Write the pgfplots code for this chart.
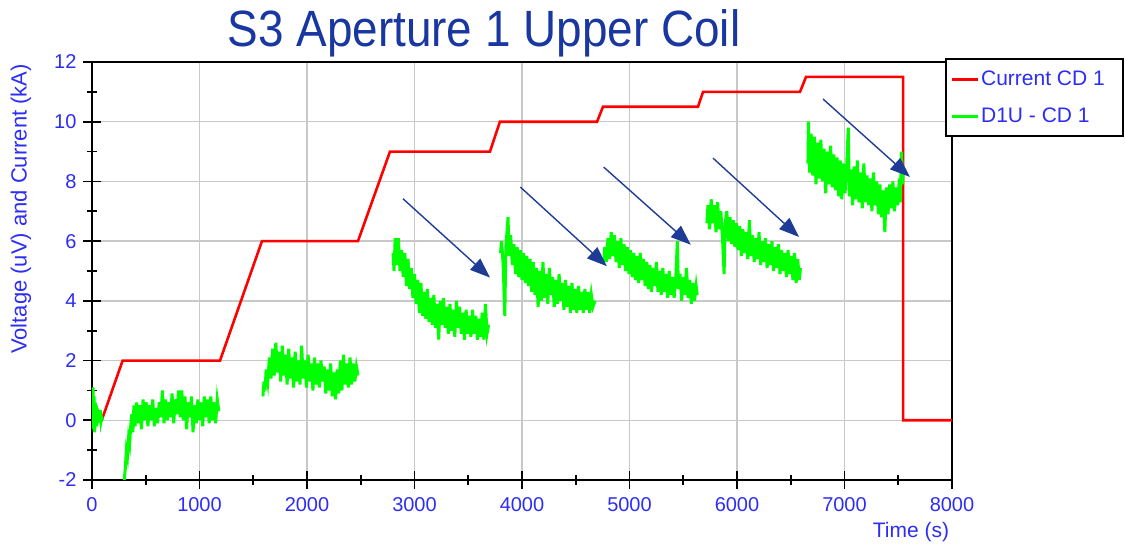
\documentclass[border=0pt]{standalone}
\usepackage{fontspec}
\setmainfont{Liberation Sans}
\usepackage{pgfplots}
\pgfplotsset{compat=1.18}
\usetikzlibrary{arrows.meta}
\definecolor{tickblue}{RGB}{45,45,245}
\definecolor{titleblue}{RGB}{25,55,160}
\definecolor{arrowblue}{RGB}{30,60,150}
\definecolor{gridgray}{RGB}{200,200,200}
\definecolor{lime}{RGB}{0,255,0}
\begin{document}
\begin{tikzpicture}[x=1pt,y=1pt]
\useasboundingbox (-92pt,-66pt) rectangle (1033pt,480pt);
\begin{axis}[
  at={(0pt,0pt)}, anchor=south west,
  scale only axis, width=860pt, height=418pt,
  xmin=0, xmax=8000, ymin=-2, ymax=12,
  xtick={0,1000,...,8000}, ytick={-2,0,...,12},
  minor x tick num=1, minor y tick num=1,
  xtick pos=left, ytick pos=left,
  tick align=center,
  major tick length=18pt, minor tick length=10pt,
  every tick/.style={black, line width=1.6pt},
  axis line style={black, line width=2pt},
  grid=major,
  major grid style={gridgray, line width=1.3pt},
  scaled ticks=false,
  /pgf/number format/1000 sep={},
  /pgf/number format/assume math mode=true,
  tick label style={font=\fontsize{20}{24}\selectfont, text=tickblue},
  xticklabel style={yshift=-5pt},
  yticklabel style={xshift=-3pt},
  unbounded coords=jump,
  legend cell align=left,
  legend style={at={(0.992,1.0096)}, anchor=north west, draw=black, line width=2pt,
    fill=white, font=\fontsize{21}{25}\selectfont, text=tickblue,
    inner xsep=4pt, inner ysep=10pt, row sep=17pt},
  legend image code/.code={\draw[#1, line width=3pt] (0pt,0pt) -- (26pt,0pt);},
]
\addplot[red, line width=2.6pt] coordinates {
(0,0)(90,0)(285,2)(1191,2)(1581,6)(2474,6)(2772,9)(3702,9)(3795,10)(4698,10)
(4753,10.5)(5637,10.5)(5684,11)(6586,11)(6642,11.5)(7545,11.5)(7545,0)(8000,0)};
\addlegendentry{\makebox[136pt][l]{Current CD 1}}
\addplot[lime, line width=3pt] coordinates {
(0,0.1)(5,-0.3)(10,1.1)(15,0.2)(20,0.8)(25,-0.4)(30,0.6)(35,0.0)(40,0.5)(45,-0.2)(50,0.4)
(55,0.1)(60,0.3)(65,-0.1)(70,0.2)(75,0.0)(80,0.35)(85,0.0)(90,0.1)(95,0.05)(100,0.0)
(101,nan)
(300,-2.0)(310,-1.6)(320,-1.0)(330,-1.2)(340,-0.6)(350,-0.8)(360,-0.2)(370,0.2)(380,-0.4)(390,0.5)
(400,-0.2)(415,0.6)(430,-0.1)(445,0.5)(460,-0.3)(475,0.7)(490,0.0)(505,0.6)(520,-0.2)(535,0.5)
(550,0.0)(565,0.7)(580,-0.2)(595,0.4)(610,-0.1)(625,0.6)(640,0.1)(655,1.0)(670,-0.1)(685,0.7)
(700,0.0)(715,0.6)(730,0.1)(745,0.9)(760,-0.1)(775,0.7)(790,0.2)(805,1.0)(820,0.1)(835,1.0)
(850,0.0)(865,0.8)(880,-0.3)(895,0.6)(910,0.1)(925,0.8)(940,-0.4)(955,0.5)(970,-0.1)(985,0.7)
(1000,0.0)(1015,0.6)(1030,-0.2)(1045,0.8)(1060,0.1)(1075,0.7)(1090,-0.1)(1105,0.8)(1120,0.0)
(1135,0.6)(1150,-0.1)(1165,0.7)(1180,0.3)
(1181,nan)
(1590,0.8)(1600,1.3)(1610,1.0)(1620,1.7)(1635,1.3)(1650,2.1)(1665,1.4)(1680,2.4)(1695,1.5)
(1710,2.6)(1725,1.6)(1740,2.3)(1755,1.3)(1770,2.5)(1785,1.5)(1800,2.2)(1815,1.2)(1830,2.4)
(1845,1.4)(1860,2.1)(1875,1.1)(1890,2.3)(1905,1.3)(1920,2.0)(1935,1.2)(1950,2.5)(1965,1.4)
(1980,2.0)(1995,1.1)(2010,2.2)(2025,1.3)(2040,1.9)(2055,1.0)(2070,2.1)(2085,1.2)(2100,1.9)
(2115,1.1)(2130,2.0)(2145,1.3)(2160,1.8)(2175,0.9)(2190,1.7)(2205,1.0)(2220,1.9)(2235,0.8)
(2250,1.6)(2265,0.7)(2280,1.7)(2295,0.9)(2310,2.0)(2325,1.0)(2340,2.2)(2355,1.2)(2370,1.9)
(2385,1.1)(2400,2.1)(2415,1.2)(2430,1.9)(2445,1.3)(2460,1.8)(2475,1.5)
(2476,nan)
(2800,5.6)(2810,5.0)(2820,6.1)(2835,5.2)(2850,6.1)(2865,5.0)(2880,5.7)(2895,4.8)(2910,5.6)
(2925,4.5)(2940,5.4)(2955,4.4)(2970,5.1)(2985,4.1)(3000,4.9)(3015,3.9)(3030,4.7)(3045,3.6)
(3060,4.6)(3075,3.5)(3090,4.3)(3105,3.4)(3120,4.4)(3135,3.3)(3150,4.1)(3165,3.2)(3180,4.2)
(3195,3.1)(3210,3.9)(3225,2.7)(3240,4.0)(3255,3.2)(3270,4.1)(3285,3.1)(3300,3.8)(3315,2.9)
(3330,3.9)(3345,3.0)(3360,3.7)(3375,2.8)(3390,4.0)(3405,3.1)(3420,3.8)(3435,2.9)(3450,3.6)
(3465,2.7)(3480,3.7)(3495,2.9)(3510,3.5)(3525,2.8)(3540,3.7)(3555,2.9)(3570,3.5)(3585,2.7)
(3600,3.4)(3615,2.8)(3630,3.6)(3645,2.7)(3660,3.9)(3675,2.9)(3690,3.2)
(3691,nan)
(3800,5.6)(3810,6.0)(3825,5.2)(3840,3.5)(3850,5.8)(3860,6.3)(3870,6.8)(3880,5.5)(3895,6.2)
(3910,5.2)(3925,5.9)(3940,4.9)(3955,5.8)(3970,4.8)(3985,5.7)(4000,4.7)(4015,5.6)(4030,4.6)
(4045,5.5)(4060,4.5)(4075,5.4)(4090,4.3)(4105,5.3)(4120,4.2)(4135,5.1)(4150,3.8)(4165,5.0)
(4180,4.0)(4195,5.3)(4210,4.1)(4225,4.9)(4240,3.9)(4255,5.1)(4270,4.2)(4285,4.8)(4300,3.8)
(4315,4.7)(4330,3.9)(4345,4.9)(4360,4.0)(4375,4.6)(4390,3.7)(4405,4.7)(4420,3.8)(4435,4.5)
(4450,3.6)(4465,4.6)(4480,3.7)(4495,4.4)(4510,3.6)(4525,4.5)(4540,3.7)(4555,4.3)(4570,3.6)
(4585,4.4)(4600,3.7)(4615,4.3)(4630,3.6)(4645,4.2)(4660,3.8)(4680,4.0)
(4681,nan)
(4760,5.3)(4770,5.8)(4785,5.3)(4800,6.1)(4815,5.4)(4830,6.3)(4845,5.5)(4860,6.2)(4875,5.3)
(4890,6.0)(4905,5.1)(4920,6.1)(4935,5.2)(4950,5.9)(4965,5.0)(4980,5.8)(4995,4.9)(5010,5.7)
(5025,4.8)(5040,5.6)(5055,4.7)(5070,5.5)(5085,4.6)(5100,5.6)(5115,4.7)(5130,5.4)(5145,4.5)
(5160,5.3)(5175,4.4)(5190,5.2)(5205,4.3)(5220,5.1)(5235,4.5)(5250,5.3)(5265,4.3)(5280,5.0)
(5295,4.2)(5310,5.1)(5325,4.3)(5340,4.9)(5355,4.1)(5370,5.0)(5385,4.2)(5400,4.8)(5415,4.1)
(5430,4.7)(5445,6.0)(5455,4.4)(5470,4.9)(5485,4.0)(5500,4.8)(5515,4.2)(5530,5.1)(5545,4.1)
(5560,4.7)(5575,3.9)(5590,4.6)(5605,4.0)(5620,4.5)(5630,4.2)
(5631,nan)
(5720,6.6)(5730,7.2)(5745,6.4)(5760,7.4)(5775,6.6)(5790,7.2)(5805,6.3)(5820,7.3)(5835,6.4)
(5850,7.0)(5865,6.1)(5880,4.9)(5890,6.6)(5905,7.0)(5920,6.0)(5935,6.8)(5950,5.9)(5965,6.7)
(5980,5.8)(5995,6.6)(6010,5.7)(6025,6.5)(6040,5.5)(6055,6.4)(6070,5.6)(6085,6.3)(6100,5.4)
(6115,6.7)(6130,5.5)(6145,6.2)(6160,5.3)(6175,6.1)(6190,5.4)(6205,6.3)(6220,5.2)(6235,6.0)
(6250,5.3)(6265,6.1)(6280,5.1)(6295,5.9)(6310,5.2)(6325,6.0)(6340,5.0)(6355,5.8)(6370,5.1)
(6385,5.9)(6400,4.9)(6415,5.7)(6430,5.0)(6445,5.6)(6460,4.8)(6475,5.7)(6490,4.9)(6505,5.5)
(6520,4.7)(6535,5.6)(6550,4.6)(6565,5.4)(6580,4.7)(6590,5.1)
(6591,nan)
(6660,8.6)(6665,10.0)(6675,8.3)(6690,9.6)(6705,8.2)(6720,9.5)(6735,7.9)(6750,9.3)(6765,8.1)
(6780,9.4)(6795,8.0)(6810,9.1)(6825,7.6)(6840,9.0)(6855,7.9)(6870,9.2)(6885,7.8)(6900,8.9)
(6915,7.7)(6930,8.8)(6945,7.5)(6960,8.7)(6975,7.4)(6990,8.6)(7005,7.6)(7020,8.5)(7035,9.8)
(7045,7.5)(7060,8.4)(7075,7.2)(7090,8.5)(7105,7.4)(7120,8.7)(7135,7.3)(7150,8.3)(7165,7.1)
(7180,8.6)(7195,7.3)(7210,8.2)(7225,7.2)(7240,8.1)(7255,7.0)(7270,8.3)(7285,7.2)(7300,8.0)
(7315,6.9)(7330,7.9)(7345,6.8)(7360,7.7)(7375,6.3)(7390,7.8)(7405,6.9)(7420,7.9)(7435,7.1)
(7450,8.0)(7465,7.0)(7480,7.8)(7495,7.2)(7510,8.1)(7520,7.3)(7530,9.0)(7540,7.9)(7545,8.3)};
\addlegendentry{\makebox[136pt][l]{D1U - CD 1}}
\draw[arrowblue, line width=1.4pt, -{Triangle[length=20pt,width=15pt]}] (axis cs:2893,7.42) -- (axis cs:3702,4.78);
\draw[arrowblue, line width=1.4pt, -{Triangle[length=20pt,width=15pt]}] (axis cs:3985,7.81) -- (axis cs:4790,5.16);
\draw[arrowblue, line width=1.4pt, -{Triangle[length=20pt,width=15pt]}] (axis cs:4760,8.48) -- (axis cs:5570,5.88);
\draw[arrowblue, line width=1.4pt, -{Triangle[length=20pt,width=15pt]}] (axis cs:5777,8.78) -- (axis cs:6577,6.14);
\draw[arrowblue, line width=1.4pt, -{Triangle[length=20pt,width=15pt]}] (axis cs:6800,10.76) -- (axis cs:7609,8.15);
\end{axis}
\node[text=titleblue, font=\fontsize{51}{56}\selectfont] at (392pt,447pt) {\scalebox{0.9}[1]{S3 Aperture 1 Upper Coil}};
\node[text=tickblue, font=\fontsize{22}{26}\selectfont, rotate=90] at (-71pt,271pt) {Voltage (uV) and Current (kA)};
\node[text=tickblue, font=\fontsize{21}{25}\selectfont] at (819pt,-52pt) {Time (s)};
\end{tikzpicture}
\end{document}
